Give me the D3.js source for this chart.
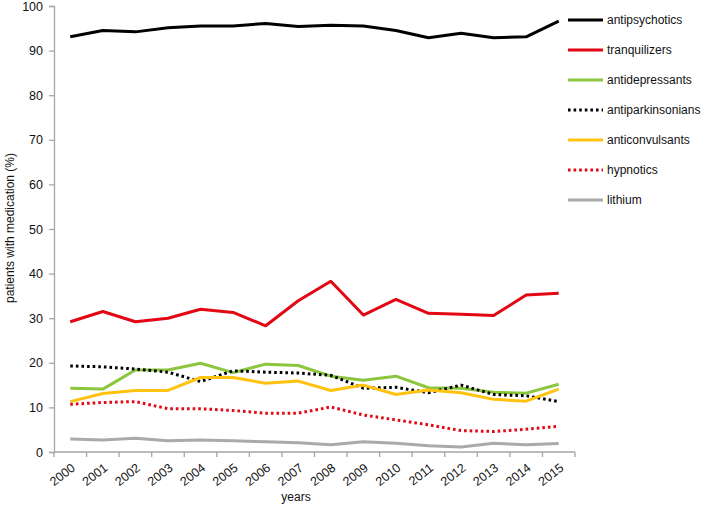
<!DOCTYPE html>
<html><head><meta charset="utf-8">
<script src="https://cdn.jsdelivr.net/npm/d3@7"></script>
<style>body{margin:0;background:#fff}svg{display:block;font-family:Arial,"Liberation Sans",sans-serif}</style>
</head><body><svg id="c" width="713" height="506"></svg>
<script>
const years = ["2000","2001","2002","2003","2004","2005","2006","2007","2008","2009","2010","2011","2012","2013","2014","2015"];
const antipsychotics = [93.1,94.5,94.2,95.1,95.5,95.5,96.1,95.4,95.7,95.5,94.5,92.9,93.9,92.9,93.1,96.6];
const tranquilizers = [29.2,31.5,29.2,30.0,32.0,31.3,28.3,33.9,38.3,30.7,34.2,31.1,30.9,30.6,35.2,35.6];
const antidepressants = [14.3,14.1,18.4,18.4,19.9,17.8,19.7,19.4,17.0,16.1,17.0,14.4,14.3,13.4,13.2,15.2];
const antiparkinsonians = [19.3,19.1,18.6,17.9,15.8,18.2,17.9,17.7,17.2,14.3,14.5,13.3,15.0,12.9,12.6,11.3];
const anticonvulsants = [11.3,13.1,13.8,13.8,16.7,16.7,15.4,15.9,13.8,15.0,12.9,13.9,13.3,11.8,11.4,14.1];
const hypnotics = [10.7,11.1,11.3,9.7,9.7,9.3,8.7,8.7,10.1,8.3,7.2,6.1,4.8,4.6,5.1,5.8];
const lithium = [2.9,2.7,3.1,2.5,2.7,2.5,2.3,2.1,1.6,2.3,1.95,1.4,1.1,1.95,1.6,1.9];
const yTicks = [0,10,20,30,40,50,60,70,80,90,100];

const series = [
  {name:"antipsychotics", values:antipsychotics, color:"#000000", dotted:false},
  {name:"tranquilizers", values:tranquilizers, color:"#e30613", dotted:false},
  {name:"antidepressants", values:antidepressants, color:"#8cc63e", dotted:false},
  {name:"antiparkinsonians", values:antiparkinsonians, color:"#000000", dotted:true},
  {name:"anticonvulsants", values:anticonvulsants, color:"#ffc20e", dotted:false},
  {name:"hypnotics", values:hypnotics, color:"#e30613", dotted:true},
  {name:"lithium", values:lithium, color:"#aaaaaa", dotted:false}
];

const svg = d3.select("#c");
const mLeft = 54, mRight = 575, mTop = 6, mBottom = 452;
const x = d3.scaleBand().domain(years).range([mLeft, mRight]);
const y = d3.scaleLinear().domain([0,100]).range([mBottom, mTop]);
const axisColor = "#a6a6a6";

// y axis
const ya = svg.append("g").attr("transform",`translate(${mLeft},0)`)
  .call(d3.axisLeft(y).tickValues(yTicks).tickSize(5).tickPadding(6));
ya.select(".domain").attr("stroke",axisColor).attr("stroke-width",1.3);
ya.selectAll(".tick line").attr("stroke",axisColor).attr("stroke-width",1.3);
ya.selectAll(".tick text").attr("fill","#111").style("font-size","12.5px").style("font-family","Arial, 'Liberation Sans', sans-serif");

// x axis with ticks at band edges
const xa = svg.append("g").attr("transform",`translate(0,${mBottom})`);
xa.append("line").attr("x1",mLeft).attr("x2",mRight).attr("y1",0).attr("y2",0).attr("stroke",axisColor).attr("stroke-width",1.3);
const edges = years.map(d=>x(d)).concat([mRight]);
xa.selectAll("line.tk").data(edges).enter().append("line").attr("class","tk")
  .attr("x1",d=>d).attr("x2",d=>d).attr("y1",0).attr("y2",5).attr("stroke",axisColor).attr("stroke-width",1.3);
xa.selectAll("text").data(years).enter().append("text")
  .attr("transform",d=>`translate(${x(d)+x.bandwidth()/2+3},${14}) rotate(-38)`)
  .attr("text-anchor","end").attr("dy","0.35em")
  .style("font-size","12.5px").attr("fill","#111").text(d=>d);

// axis titles
svg.append("text").attr("transform",`translate(14,228) rotate(-90)`).attr("text-anchor","middle")
  .style("font-size","12px").attr("fill","#111").text("patients with medication (%)");
svg.append("text").attr("x",296).attr("y",501).attr("text-anchor","middle")
  .style("font-size","12px").attr("fill","#111").text("years");

// lines
const line = d3.line().x((d,i)=>x(years[i])+x.bandwidth()/2).y(d=>y(d));
series.forEach(s=>{
  svg.append("path").datum(s.values).attr("d",line).attr("fill","none")
    .attr("stroke",s.color).attr("stroke-width",3)
    .attr("stroke-linejoin","round")
    .attr("stroke-dasharray",s.dotted?"2.6,3":null);
});

// legend
const lg = svg.append("g");
series.forEach((s,i)=>{
  const ly = 20 + i*30;
  lg.append("line").attr("x1",568).attr("x2",603).attr("y1",ly).attr("y2",ly)
    .attr("stroke",s.color).attr("stroke-width",3).attr("stroke-dasharray",s.dotted?"2.6,3":null);
  lg.append("text").attr("x",607).attr("y",ly).attr("dy","0.35em")
    .style("font-size","12px").attr("fill","#111").text(s.name);
});
</script></body></html>
